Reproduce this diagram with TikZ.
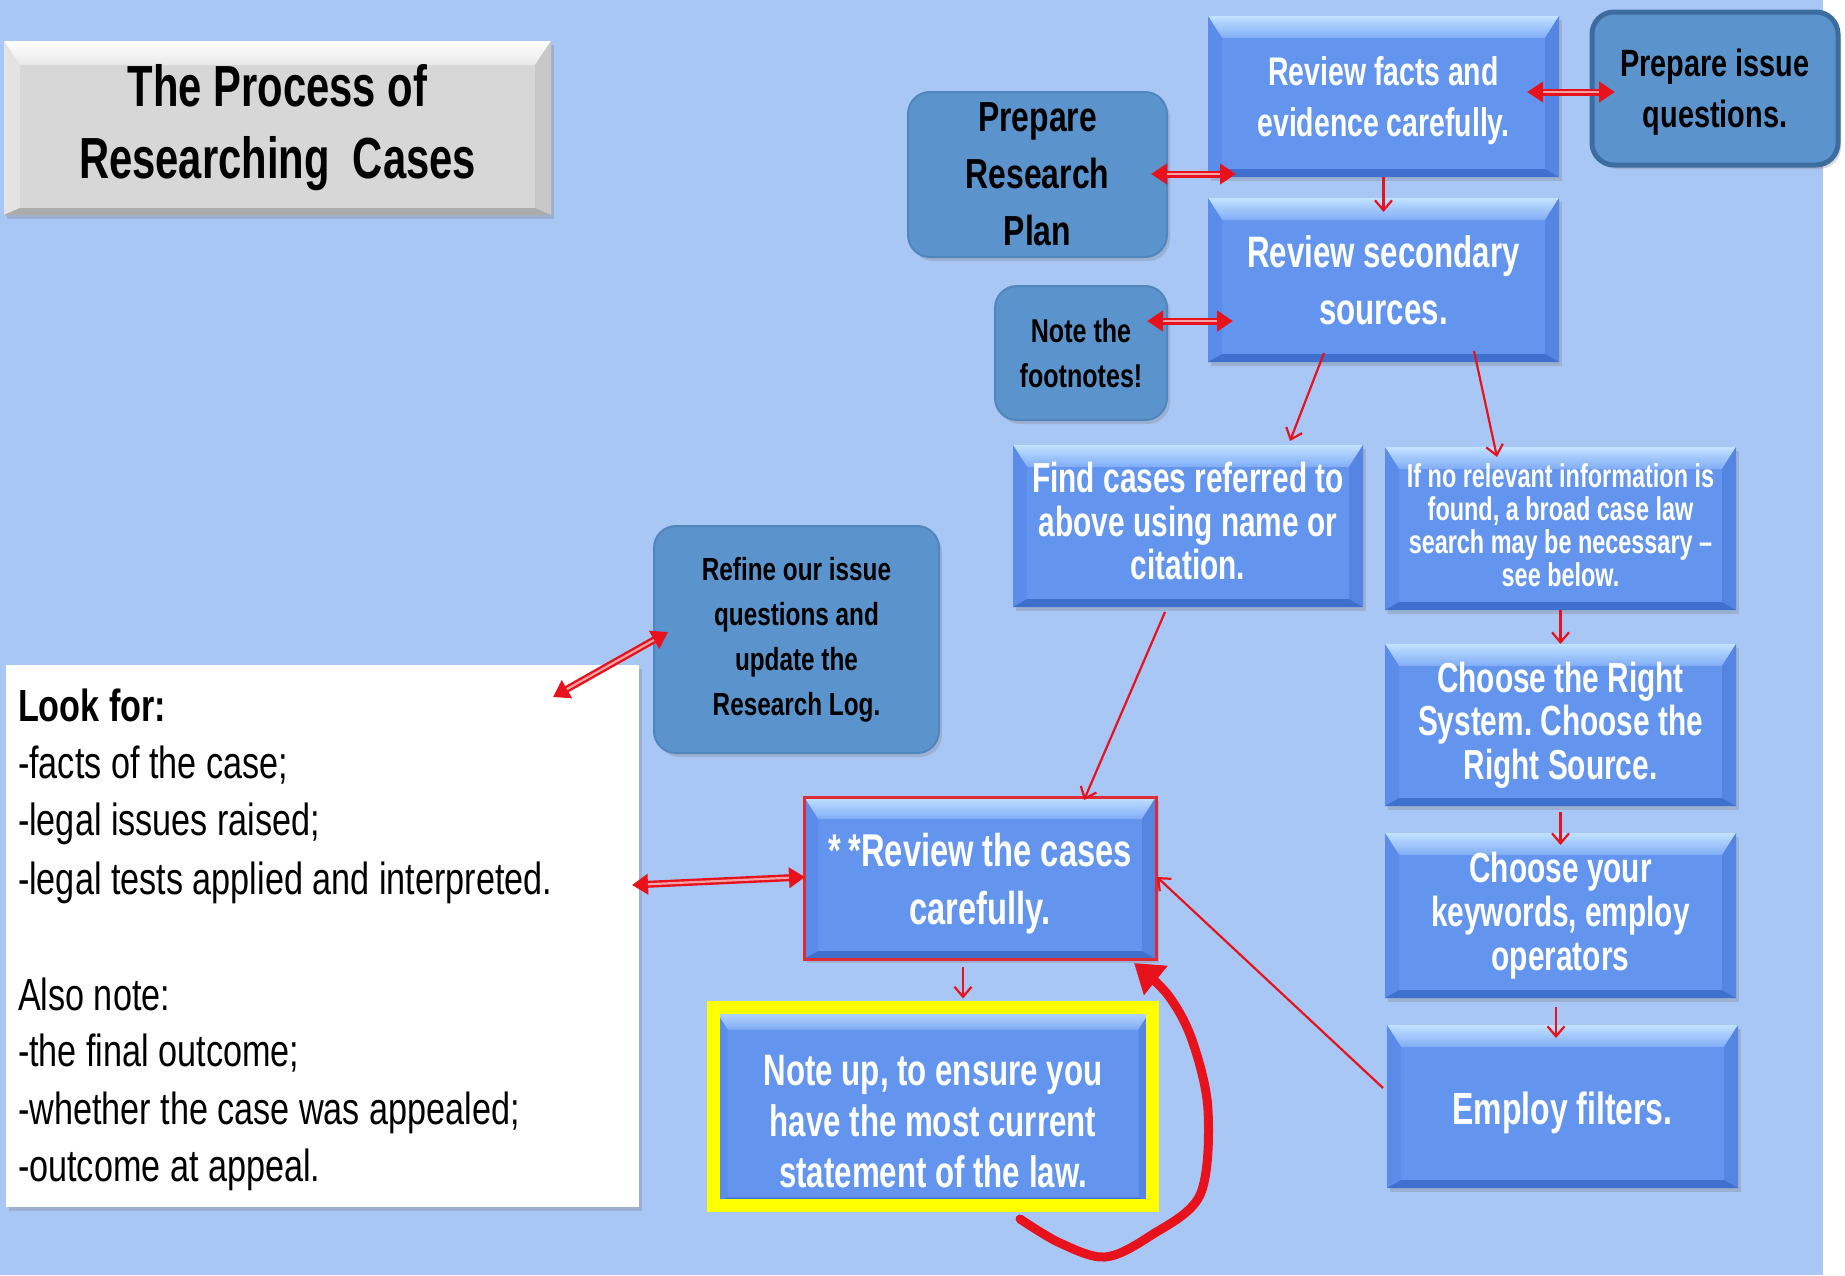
\documentclass[tikz,border=0pt]{standalone}
\usepackage{fontspec}
\setmainfont{Liberation Sans}
\newfontfamily\cnd[FakeStretch=0.76]{Liberation Sans}
\newfontfamily\cndw[FakeStretch=0.71]{Liberation Sans}
\newfontfamily\cndt[FakeStretch=0.72]{Liberation Sans}
\usetikzlibrary{arrows.meta,calc,shadows}
\frenchspacing

\definecolor{bg}{HTML}{A9C7F5}
\definecolor{face}{HTML}{6395EF}
\definecolor{bevtopA}{HTML}{C2E2FF}
\definecolor{bevtopB}{HTML}{80ACF6}
\definecolor{bevleft}{HTML}{5B8CE9}
\definecolor{bevright}{HTML}{5585E2}
\definecolor{bevbot}{HTML}{3F70CE}
\definecolor{gface}{HTML}{D7D7D7}
\definecolor{gtopA}{HTML}{FFFFFF}
\definecolor{gtopB}{HTML}{E8E8E8}
\definecolor{gleft}{HTML}{E3E3E3}
\definecolor{gright}{HTML}{C8C8C8}
\definecolor{gbot}{HTML}{ABABAB}
\definecolor{steel}{HTML}{5B94CD}
\definecolor{steelborder}{HTML}{5085BD}
\definecolor{steeldark}{HTML}{3D6C9E}
\definecolor{arrred}{HTML}{E8121C}
\definecolor{arrpink}{HTML}{F4A3A6}
\definecolor{revred}{HTML}{E02A36}
\definecolor{ylw}{HTML}{FFFF00}

\newcommand\mybevel[8]{%
  \coordinate (bNW) at (path picture bounding box.north west);
  \coordinate (bSE) at (path picture bounding box.south east);
  \coordinate (bNE) at (path picture bounding box.north east);
  \coordinate (bSW) at (path picture bounding box.south west);
  \fill[top color=#4,bottom color=#5] (bNW) -- (bNE) -- ($(bNE)+(-#1,#2)$) -- ($(bNW)+(#1,#2)$) -- cycle;
  \fill[#6] (bNW) -- ($(bNW)+(#1,#2)$) -- ($(bSW)+(#1,-#3)$) -- (bSW) -- cycle;
  \fill[#7] (bNE) -- ($(bNE)+(-#1,#2)$) -- ($(bSE)+(-#1,-#3)$) -- (bSE) -- cycle;
  \fill[#8] (bSW) -- ($(bSW)+(#1,-#3)$) -- ($(bSE)+(-#1,-#3)$) -- (bSE) -- cycle;
}

\tikzset{
  every node/.style={outer sep=0pt},
  sz/.style 2 args={minimum width=#1pt, minimum height=#2pt},
  blue3d/.style={fill=face, inner sep=0pt, align=center, text=white,
    path picture={\mybevel{14}{22}{8}{bevtopA}{bevtopB}{bevleft}{bevright}{bevbot}},
    drop shadow={shadow xshift=3pt, shadow yshift=-4pt, opacity=0.3}},
  graybox/.style={fill=gface, inner sep=0pt, align=center, text=black,
    path picture={\mybevel{16}{24}{7}{gtopA}{gtopB}{gleft}{gright}{gbot}},
    drop shadow={shadow xshift=3pt, shadow yshift=-4pt, opacity=0.3}},
  steelbox/.style={rounded corners=22pt, fill=steel, draw=steelborder, line width=2pt,
    inner sep=0pt, align=center, text=black,
    drop shadow={shadow xshift=3pt, shadow yshift=-4pt, opacity=0.3}},
  whitebox/.style={fill=white, inner sep=0pt,
    drop shadow={shadow xshift=3pt, shadow yshift=-4pt, opacity=0.3}},
  lk/.style={anchor=base west, inner sep=0pt, text=black},
  thinarr/.style={draw=arrred, line width=2.2pt,
    -{Straight Barb[length=10pt,width=17pt,line width=2.2pt]}},
  dblout/.style={draw=arrred, line width=7pt,
    {Triangle[length=16pt,width=20pt]}-{Triangle[length=16pt,width=20pt]}},
  dblin/.style={draw=arrpink, line width=2.2pt, shorten <=16pt, shorten >=16pt},
  loopst/.style={draw=arrred, line width=9pt, line cap=round, line join=round,
    -{Triangle[length=28pt,width=36pt]}}
}

\begin{document}
\begin{tikzpicture}[x=1pt, y=-1pt]
\useasboundingbox (0,0) rectangle (1845,1275);
\fill[bg] (0,0) rectangle (1823,1275);
\fill[white] (1823,0) rectangle (1845,1275);

% title
\node[graybox, sz={547}{174}, font=\cndt\bfseries\fontsize{58}{72}\selectfont] (title) at (277.5,128) {The Process of\\Researching\ \ Cases};

% look-for box
\node[whitebox, sz={633}{542}] (lookbox) at (322.5,936) {};
\node[lk, font=\cnd\bfseries\fontsize{45}{57}\selectfont] (l1) at (18,721) {Look for:};
\node[lk, font=\cnd\fontsize{45}{57}\selectfont] (l2) at (18,778) {-facts of the case;};
\node[lk, font=\cnd\fontsize{45}{57}\selectfont] (l3) at (18,835) {-legal issues raised;};
\node[lk, font=\cnd\fontsize{45}{57}\selectfont] (l4) at (18,894) {-legal tests applied and interpreted.};
\node[lk, font=\cnd\fontsize{45}{57}\selectfont] (l5) at (18,1010) {Also note:};
\node[lk, font=\cnd\fontsize{45}{57}\selectfont] (l6) at (18,1066) {-the final outcome;};
\node[lk, font=\cnd\fontsize{45}{57}\selectfont] (l7) at (18,1124) {-whether the case was appealed;};
\node[lk, font=\cnd\fontsize{45}{57}\selectfont] (l8) at (18,1181) {-outcome at appeal.};

% top group
\node[blue3d, sz={351}{161}, font=\cndw\bfseries\fontsize{40}{51}\selectfont] (facts) at (1383.5,96.5) {\parbox{340pt}{\centering\vspace*{8pt}Review facts and\\evidence carefully.}};
\node[steelbox, draw=steeldark, line width=5pt, sz={246}{153}, font=\cnd\bfseries\fontsize{38}{51}\selectfont] (issue) at (1715,88.5) {\parbox{230pt}{\centering\vspace*{8pt}Prepare issue\\questions.}};
\node[steelbox, sz={259}{165}, font=\cnd\bfseries\fontsize{42}{57}\selectfont] (plan) at (1037.5,174.5) {Prepare\\Research\\Plan};
\node[blue3d, sz={351}{164}, font=\cndw\bfseries\fontsize{44}{57}\selectfont] (secondary) at (1383.5,280) {Review secondary\\sources.};
\node[steelbox, sz={172}{134}, font=\cnd\bfseries\fontsize{33}{45}\selectfont] (footnotes) at (1081,353) {Note the\\footnotes!};

% middle
\node[blue3d, sz={350}{162}, font=\cndw\bfseries\fontsize{42}{43.5}\selectfont] (find) at (1188,526) {\parbox{340pt}{\centering Find cases referred to\\above using name or\\citation.\vspace*{10pt}}};
\node[blue3d, sz={351}{163}, font=\cndw\bfseries\fontsize{33}{33}\selectfont] (ifno) at (1560.5,528.5) {\parbox{340pt}{\centering If no relevant information is\\found, a broad case law\\search may be necessary –\\see below.\vspace*{6pt}}};
\node[blue3d, sz={351}{162}, font=\cndw\bfseries\fontsize{42}{43.5}\selectfont] (system) at (1560.5,725) {Choose the Right\\System. Choose the\\Right Source.};
\node[blue3d, sz={351}{165}, font=\cndw\bfseries\fontsize{42}{44}\selectfont] (keywords) at (1560.5,915.5) {Choose your\\keywords, employ\\operators};
\node[blue3d, sz={351}{163}, font=\cndw\bfseries\fontsize{45}{50}\selectfont] (filters) at (1562.5,1106.5) {\parbox{340pt}{\centering\vspace*{12pt}Employ filters.}};
\node[steelbox, sz={285}{227}, font=\cnd\bfseries\fontsize{32}{45}\selectfont] (refine) at (796.5,639.5) {Refine our issue\\questions and\\update the\\Research Log.};
\node[blue3d, draw=revred, line width=3pt, sz={352}{162}, font=\cndw\bfseries\fontsize{46}{58}\selectfont] (review) at (980,878) {\parbox{340pt}{\centering\vspace*{12pt}*\,*Review the cases\\carefully.}};
\node[blue3d, draw=ylw, line width=13pt, sz={439}{198}, font=\cndw\bfseries\fontsize{44}{51}\selectfont] (noteup) at (933,1106.5) {\parbox{420pt}{\centering\vspace*{30pt}Note up, to ensure you\\have the most current\\statement of the law.}};

% thin arrows
\draw[thinarr] (facts.south) -- ($(secondary.north)+(0,14)$);
\draw[thinarr] ($(secondary.south)+(-59.5,-9)$) -- ($(find.north)+(102,-4)$);
\draw[thinarr] ($(secondary.south)+(90.5,-11)$) -- ($(ifno.north)+(-63.5,10)$);
\draw[thinarr] (ifno.south) -- (system.north);
\draw[thinarr] ($(system.south)+(0,6)$) -- ($(keywords.north)+(0,12)$);
\draw[thinarr] ($(keywords.south)+(-4.5,9)$) -- ($(filters.north)+(-6.5,13)$);
\draw[thinarr] ($(find.south)+(-23,5)$) -- ($(review.north)+(104,3)$);
\draw[thinarr] ($(filters.west)+(-4,-18.5)$) -- ($(review.east)+(1,-1)$);
\draw[thinarr] ($(review.south)+(-17,8)$) -- ($(noteup.north)+(30,-9)$);

% double arrows
\coordinate (d1a) at ($(plan.east)+(-16,-0.5)$);
\coordinate (d1b) at ($(facts.south west)+(28,-3)$);
\coordinate (d2a) at ($(facts.east)+(-32,-4.5)$);
\coordinate (d2b) at ($(issue.west)+(23,3.5)$);
\coordinate (d3a) at ($(footnotes.north east)+(-20,35)$);
\coordinate (d3b) at ($(secondary.west)+(25,41)$);
\coordinate (d4a) at ($(refine.west)+(14,-7.5)$);
\coordinate (d4b) at ($(lookbox.north east)+(-86,32)$);
\coordinate (d5a) at ($(lookbox.east)+(-7,-51)$);
\coordinate (d5b) at ($(review.west)+(1,-1)$);
\foreach \a/\b in {d1a/d1b,d2a/d2b,d3a/d3b,d4a/d4b,d5a/d5b}{
  \draw[dblout] (\a) -- (\b);
  \draw[dblin] (\a) -- (\b);
}

% hand-drawn loop
\coordinate (ls) at ($(noteup.south)+(87,13.5)$);
\coordinate (le) at ($(review.south east)+(-22,4)$);
\draw[loopst] plot[smooth, tension=0.55] coordinates {(ls) (1060,1243) (1105,1257) (1150,1236) (1200,1195) (1208,1110) (1192,1040) (1168,995) (le)};
\end{tikzpicture}
\end{document}
